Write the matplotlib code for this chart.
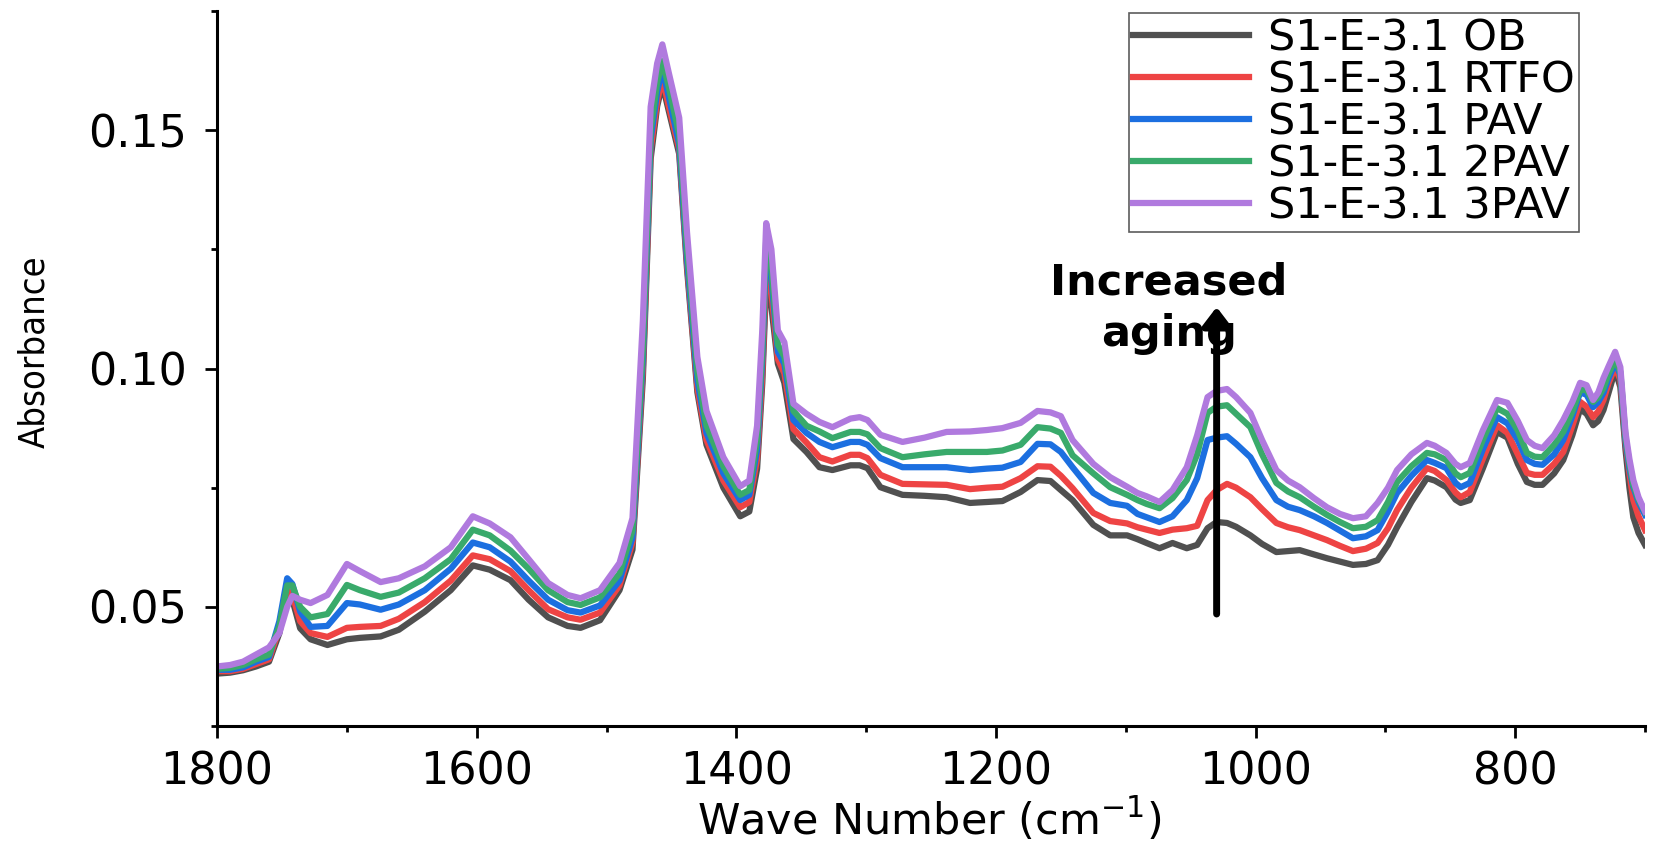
import matplotlib
matplotlib.use("Agg")
import matplotlib.pyplot as plt
from matplotlib.ticker import MultipleLocator, FormatStrFormatter

# wavenumber grid (cm-1), high -> low
wavenumber = [1800, 1790, 1780, 1770, 1760, 1752, 1746, 1742, 1736, 1728, 1715, 1700, 1690, 1674,
              1660, 1640, 1620, 1603, 1590, 1574, 1560, 1545, 1530, 1520, 1505, 1490, 1480, 1472,
              1466, 1461, 1457, 1452, 1444, 1438, 1430, 1423, 1410, 1397, 1390, 1384, 1380, 1377,
              1373, 1368, 1363, 1356, 1346, 1336, 1326, 1312, 1305, 1299, 1289, 1272, 1255, 1238,
              1220, 1207, 1195, 1181, 1168, 1158, 1150, 1141, 1125, 1112, 1099, 1091, 1084, 1074,
              1064, 1053, 1045, 1037, 1030, 1022, 1015, 1004, 995, 984, 975, 966, 955, 945, 935,
              925, 915, 906, 898, 891, 880, 868, 862, 853, 846, 842, 835, 825, 814, 806, 798, 791,
              785, 779, 770, 763, 756, 750, 745, 740, 736, 732, 728, 723, 719, 715, 712, 709, 705, 700]

ob = [.0360, .0362, .0367, .0375, .0385, .0445, .0530, .0515, .0455, .0432, .0420, .0432, .0435, .0438,
      .0452, .0490, .0535, .0587, .0578, .0556, .0515, .0478, .0460, .0456, .0472, .0535, .0620, .0980,
      .1440, .1550, .1597, .1540, .1450, .1210, .0950, .0840, .0750, .0690, .0700, .0790, .0970, .1180,
      .1130, .1010, .0970, .0852, .0825, .0793, .0787, .0797, .0797, .0791, .0751, .0735, .0733, .0730,
      .0718, .0720, .0722, .0741, .0766, .0764, .0745, .0724, .0672, .0650, .0650, .0642, .0634, .0623,
      .0634, .0623, .0630, .0665, .0678, .0676, .0668, .0650, .0632, .0615, .0617, .0619, .0610, .0602, .0595,
      .0588, .0590, .0598, .0630, .0667, .0720, .0770, .0765, .0751, .0725, .0718, .0724, .0790, .0867, .0855, .0800, .0762,
      .0756, .0756, .0780, .0808, .0860, .0915, .0905, .0881, .0890, .0913, .0950, .0997, .0961, .0829, .0750, .0688, .0655, .0630]

rtfo = [.0365, .0365, .0370, .0380, .0390, .0455, .0535, .0525, .0470, .0445, .0437, .0456, .0458, .0460,
        .0475, .0510, .0555, .0608, .0600, .0575, .0535, .0495, .0478, .0473, .0488, .0545, .0635, .1000,
        .1460, .1560, .1610, .1550, .1460, .1220, .0960, .0850, .0765, .0709, .0720, .0810, .0990, .1210,
        .1160, .1020, .0990, .0873, .0845, .0814, .0805, .0819, .0819, .0812, .0777, .0758, .0757, .0756,
        .0747, .0750, .0752, .0770, .0795, .0794, .0775, .0749, .0697, .0680, .0675, .0667, .0662, .0655,
        .0662, .0665, .0670, .0724, .0745, .0758, .0750, .0730, .0705, .0676, .0667, .0661, .0650, .0640, .0628,
        .0617, .0622, .0634, .0665, .0703, .0750, .0791, .0785, .0766, .0740, .0730, .0741, .0810, .0881, .0865, .0820, .0781,
        .0777, .0777, .0800, .0825, .0880, .0930, .0920, .0898, .0910, .0934, .0970, .1003, .0976, .0844, .0780, .0724, .0690, .0661]

pav = [.0368, .0368, .0373, .0385, .0395, .0470, .0560, .0548, .0490, .0458, .0460, .0508, .0505, .0494,
       .0505, .0535, .0580, .0635, .0625, .0595, .0555, .0515, .0493, .0488, .0503, .0555, .0645, .1020,
       .1480, .1580, .1630, .1570, .1470, .1230, .0975, .0865, .0780, .0724, .0735, .0830, .1020, .1250,
       .1190, .1035, .1010, .0892, .0865, .0846, .0835, .0846, .0846, .0840, .0812, .0793, .0793, .0793,
       .0787, .0790, .0792, .0804, .0842, .0841, .0825, .0793, .0739, .0718, .0712, .0695, .0688, .0678,
       .0690, .0724, .0770, .0850, .0855, .0858, .0842, .0814, .0770, .0724, .0710, .0703, .0690, .0676, .0660,
       .0644, .0648, .0661, .0700, .0739, .0775, .0808, .0802, .0791, .0760, .0751, .0760, .0830, .0898, .0885, .0850, .0808,
       .0800, .0798, .0820, .0850, .0900, .0950, .0945, .0919, .0930, .0949, .0980, .1012, .0987, .0850, .0790, .0751, .0720, .0693]

pav2 = [.0370, .0372, .0378, .0390, .0400, .0460, .0545, .0545, .0500, .0478, .0485, .0546, .0535, .0521,
        .0530, .0560, .0600, .0662, .0650, .0618, .0580, .0535, .0510, .0504, .0520, .0570, .0660, .1040,
        .1500, .1600, .1645, .1590, .1490, .1250, .0995, .0880, .0795, .0735, .0745, .0850, .1040, .1270,
        .1210, .1050, .1025, .0911, .0880, .0868, .0854, .0867, .0867, .0862, .0833, .0814, .0820, .0825,
        .0825, .0825, .0828, .0840, .0877, .0874, .0865, .0818, .0780, .0751, .0735, .0724, .0716, .0707,
        .0728, .0766, .0820, .0907, .0920, .0923, .0905, .0877, .0820, .0760, .0742, .0730, .0710, .0693, .0678,
        .0665, .0668, .0682, .0720, .0762, .0795, .0823, .0820, .0808, .0780, .0772, .0781, .0850, .0917, .0905, .0870, .0823,
        .0815, .0814, .0840, .0867, .0910, .0955, .0955, .0930, .0940, .0959, .0990, .1018, .0993, .0856, .0800, .0756, .0725, .0699]

pav3 = [.0375, .0378, .0385, .0400, .0415, .0445, .0500, .0523, .0515, .0508, .0525, .0590, .0575, .0552,
        .0560, .0585, .0625, .0690, .0675, .0646, .0600, .0550, .0525, .0518, .0535, .0592, .0686, .1100,
        .1549, .1640, .1680, .1620, .1526, .1286, .1024, .0911, .0814, .0753, .0765, .0880, .1080, .1305,
        .1250, .1080, .1055, .0926, .0905, .0888, .0877, .0895, .0898, .0892, .0861, .0846, .0855, .0867,
        .0868, .0871, .0875, .0886, .0911, .0908, .0900, .0850, .0800, .0772, .0752, .0739, .0732, .0720,
        .0745, .0793, .0860, .0940, .0953, .0957, .0940, .0907, .0850, .0787, .0765, .0751, .0728, .0709, .0695,
        .0686, .0690, .0718, .0750, .0787, .0820, .0844, .0838, .0823, .0800, .0793, .0802, .0870, .0934, .0928, .0890, .0850,
        .0838, .0833, .0860, .0892, .0930, .0970, .0965, .0934, .0950, .0980, .1005, .1035, .1003, .0865, .0810, .0766, .0730, .0700]

labels = ["S1-E-3.1 OB", "S1-E-3.1 RTFO", "S1-E-3.1 PAV", "S1-E-3.1 2PAV", "S1-E-3.1 3PAV"]
colors = ["#505050", "#ee4444", "#1c6fe0", "#39aa6b", "#b07ade"]

plt.rcParams['font.family'] = ['DejaVu Sans']
plt.rcParams['mathtext.default'] = 'regular'

fig = plt.figure(figsize=(16.75, 8.41), dpi=100)
ax = fig.add_axes([0.1296, 0.1367, 0.8525, 0.8502])

for series, lab, col in zip([ob, rtfo, pav, pav2, pav3], labels, colors):
    ax.plot(wavenumber, series, color=col, lw=4.5, label=lab, solid_joinstyle='round')

ax.set_xlim(1800, 700)
ax.set_ylim(0.025, 0.175)

# axes look: only left and bottom spines, thick
for side in ['top', 'right']:
    ax.spines[side].set_visible(False)
for side in ['left', 'bottom']:
    ax.spines[side].set_linewidth(2.2)

ax.xaxis.set_major_locator(MultipleLocator(200))
ax.xaxis.set_minor_locator(MultipleLocator(100))
ax.yaxis.set_major_locator(MultipleLocator(0.05))
ax.yaxis.set_minor_locator(MultipleLocator(0.025))
ax.yaxis.set_major_formatter(FormatStrFormatter('%.2f'))

ax.tick_params(axis='both', which='major', direction='out', length=8.5, width=2)
ax.tick_params(axis='both', which='minor', direction='out', length=4.5, width=2)
ax.tick_params(axis='x', which='major', labelsize=32, pad=9)
ax.tick_params(axis='y', which='major', labelsize=32, pad=13)

ax.set_xlabel('Wave Number (cm$^{-1}$)', fontsize=31)
ax.xaxis.set_label_coords(0.4986, -0.098)
ax.set_ylabel('Absorbance', fontsize=26, va='center', fontstretch='condensed')
ax.yaxis.set_label_coords(-0.128, 0.524)

# aging annotation
ax.annotate('', xy=(1030, 0.1129), xytext=(1030, 0.0485),
            arrowprops=dict(arrowstyle='-|>,head_length=0.55,head_width=0.42',
                            lw=5, color='black', mutation_scale=20,
                            shrinkA=0, shrinkB=0))
ax.text(1067, 0.1127, 'Increased\naging', fontsize=31, fontweight='bold',
        ha='center', va='center', linespacing=1.3)

leg = ax.legend(loc='upper center', bbox_to_anchor=(1268 / 1675, 1 - 13 / 841),
                bbox_transform=fig.transFigure, fontsize=31, frameon=True,
                fancybox=False, handlelength=2.7, handletextpad=0.45,
                labelspacing=0.0, borderpad=0.1, borderaxespad=0)
leg.set_bbox_to_anchor((1354 / 1675, 1 - 13 / 841), transform=fig.transFigure)
leg.get_frame().set_edgecolor('#333333')
leg.get_frame().set_linewidth(1.2)
for line in leg.get_lines():
    line.set_linewidth(4.5)

fig.savefig('out.png', dpi=100)
